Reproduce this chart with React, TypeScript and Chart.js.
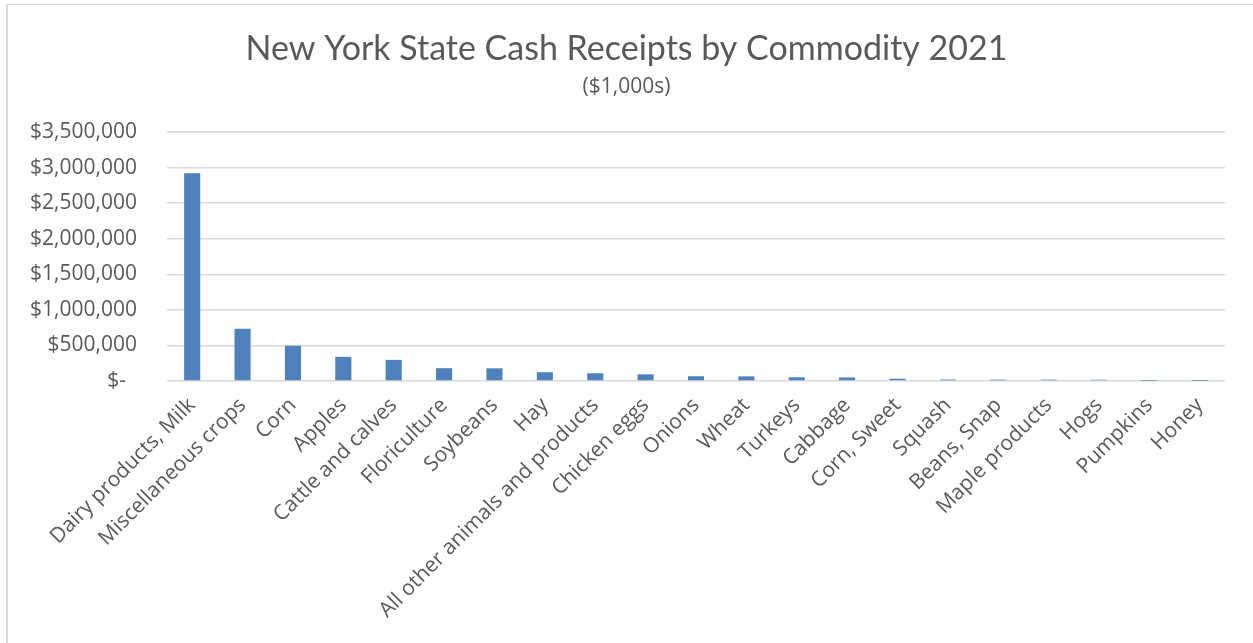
import { useEffect, useRef } from 'react';
import { Chart, registerables } from 'chart.js';

Chart.register(...registerables);

const categories = [
  'Dairy products, Milk',
  'Miscellaneous crops',
  'Corn',
  'Apples',
  'Cattle and calves',
  'Floriculture',
  'Soybeans',
  'Hay',
  'All other animals and products',
  'Chicken eggs',
  'Onions',
  'Wheat',
  'Turkeys',
  'Cabbage',
  'Corn, Sweet',
  'Squash',
  'Beans, Snap',
  'Maple products',
  'Hogs',
  'Pumpkins',
  'Honey',
];

const receipts = [
  2920000, 735000, 495000, 340000, 297000, 180000, 178000, 123000, 109000, 94000,
  67000, 65000, 52000, 50000, 32000, 21000, 19000, 19000, 18000, 2000, 1000,
];

const yTicks = [0, 500000, 1000000, 1500000, 2000000, 2500000, 3000000, 3500000];

const titleText = 'New York State Cash Receipts by Commodity 2021';
const subtitleText = '($1,000s)';

const W = 1253;
const H = 643;

export default function App() {
  const ref = useRef<HTMLCanvasElement | null>(null);

  useEffect(() => {
    const canvas = ref.current;
    if (!canvas) return;
    const chart = new Chart(canvas, {
      type: 'bar',
      data: {
        labels: categories,
        datasets: [
          {
            label: 'Cash receipts',
            data: receipts,
            backgroundColor: '#4F81BD',
            borderWidth: 0,
            categoryPercentage: 1,
            barPercentage: 0.32,
          },
        ],
      },
      options: {
        responsive: false,
        animation: false,
        layout: { padding: { top: 29, left: 28, right: 28, bottom: 0 } },
        plugins: {
          legend: { display: false },
          tooltip: { enabled: false },
          title: {
            display: true,
            text: titleText,
            color: '#595959',
            font: { family: 'Lato', size: 34, weight: 'normal' },
            padding: { top: 0, bottom: 5 },
          },
          subtitle: {
            display: true,
            text: subtitleText,
            color: '#595959',
            font: { family: 'Open Sans', size: 21, weight: 'normal' },
            padding: { top: 0, bottom: 32 },
          },
        },
        scales: {
          x: {
            grid: { display: false, drawTicks: false },
            border: { display: false },
            ticks: {
              color: '#595959',
              font: { family: 'Open Sans', size: 21 },
              maxRotation: 45,
              minRotation: 45,
              autoSkip: false,
              padding: 12,
            },
            afterFit: (s: any) => {
              s.height = H - 381;
            },
          },
          y: {
            min: 0,
            max: 3500000,
            afterBuildTicks: (s: any) => {
              s.ticks = yTicks.map((v) => ({ value: v }));
            },
            grid: { color: '#D9D9D9', lineWidth: 1.5, drawTicks: false },
            border: { display: false },
            ticks: {
              color: '#595959',
              font: { family: 'Open Sans', size: 21 },
              padding: 30,
              callback: (v: any) =>
                Number(v) === 0 ? '$-  ' : '$' + Number(v).toLocaleString('en-US'),
            },
            afterFit: (s: any) => {
              s.width = 139;
            },
          },
        },
      },
    });
    return () => chart.destroy();
  }, []);

  return (
    <div style={{ position: 'absolute', left: 0, top: 0, width: W, height: H, background: '#fff' }}>
      <div
        style={{
          position: 'absolute',
          left: 6,
          top: 4,
          width: W,
          height: H,
          borderLeft: '2px solid #D9D9D9',
          borderTop: '1px solid #D9D9D9',
          boxSizing: 'border-box',
        }}
      />
      <canvas ref={ref} width={W} height={H} style={{ position: 'absolute', left: 0, top: 0 }} />
    </div>
  );
}
